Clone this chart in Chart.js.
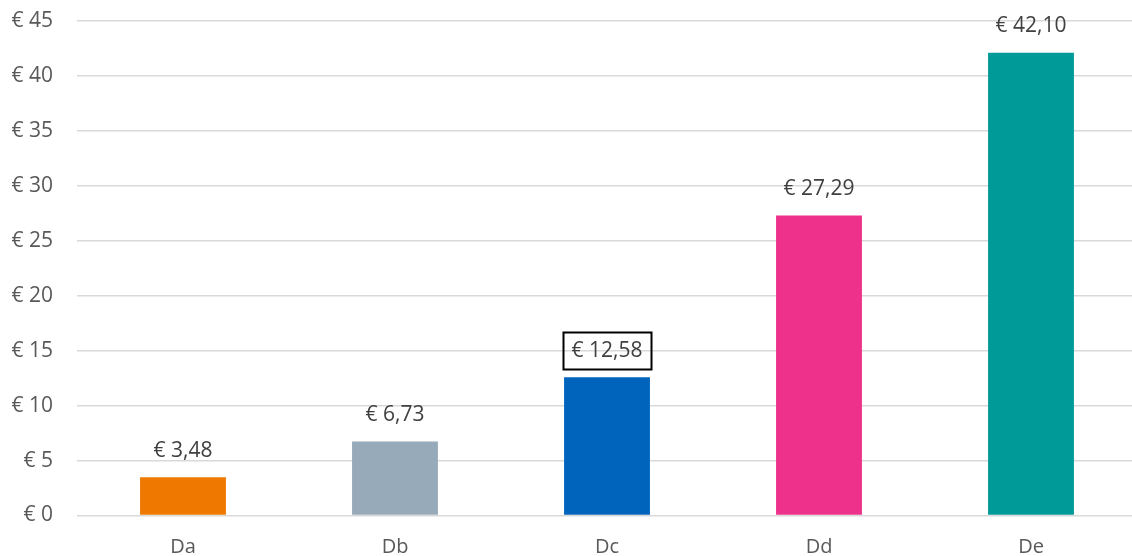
<!DOCTYPE html>
<html><head><meta charset="utf-8">
<script src="https://cdn.jsdelivr.net/npm/chart.js@4/dist/chart.umd.min.js"></script>
<style>
html,body{margin:0;padding:0;background:#fff;overflow:hidden;width:1132px;height:556px;}
#wrap{position:absolute;left:0;top:0;width:1140px;height:556px;}
</style></head>
<body><div id="wrap"><canvas id="c" width="1140" height="556"></canvas></div>
<script>
const categories = ['Da','Db','Dc','Dd','De'];
const values = [3.48, 6.73, 12.58, 27.29, 42.10];
const barColors = ['#EF7800','#96AABA','#0064BC','#EE318A','#009A99'];
const boxedIndex = 2;
const FONT = '"Open Sans", sans-serif';

function euro(v, dec){ return '€ ' + (dec ? v.toFixed(2).replace('.', ',') : String(v)); }

const labelPlugin = {
  id: 'barLabels',
  afterDatasetsDraw(chart){
    const ctx = chart.ctx;
    const meta = chart.getDatasetMeta(0);
    ctx.save();
    ctx.font = '21px ' + FONT;
    ctx.fillStyle = '#404040';
    ctx.textAlign = 'center';
    ctx.textBaseline = 'middle';
    meta.data.forEach((bar, i) => {
      const txt = euro(values[i], true);
      const y = bar.y - 26.5;
      ctx.fillText(txt, bar.x, y);
      if (i === boxedIndex) {
        const w = ctx.measureText(txt).width + 17;
        const h = 37;
        ctx.strokeStyle = '#000';
        ctx.lineWidth = 2;
        ctx.strokeRect(Math.round(bar.x - w/2) + 0.5, Math.round(y - h/2) + 0.5, Math.round(w), h);
      }
    });
    ctx.restore();
  }
};

new Chart(document.getElementById('c'), {
  type: 'bar',
  data: { labels: categories, datasets: [{ data: values, backgroundColor: barColors, categoryPercentage: 1, barPercentage: 0.405 }] },
  options: {
    responsive: false, animation: false,
    layout: { padding: { top: 21, right: 3, bottom: 0, left: 0 } },
    plugins: { legend: { display: false }, tooltip: { enabled: false } },
    scales: {
      x: {
        grid: { display: false }, border: { display: false },
        ticks: { color: '#595959', font: { family: FONT, size: 20 }, padding: 12 },
        afterFit(s){ s.height = 40.5; s.paddingLeft = 0; s.paddingRight = 0; }
      },
      y: {
        min: 0, max: 45,
        grid: { color: '#D9D9D9', lineWidth: 1.5, drawTicks: false },
        border: { display: false },
        ticks: { stepSize: 5, color: '#595959', font: { family: FONT, size: 21 }, padding: 24, callback: v => euro(v, false) },
        afterFit(s){ s.width = 77; s.paddingTop = 0; s.paddingBottom = 0; }
      }
    }
  },
  plugins: [labelPlugin]
});
</script></body></html>
